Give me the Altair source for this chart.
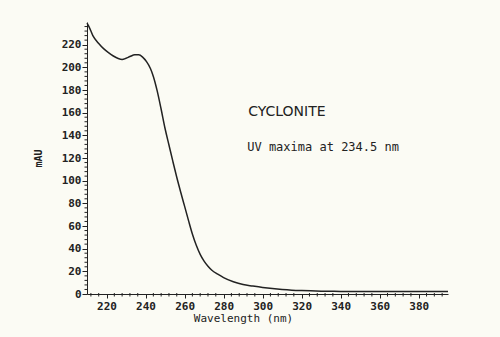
import altair as alt
import pandas as pd

wavelength = [210, 211, 213, 216, 218.5, 221, 223.5, 226, 228, 230, 232, 234.5, 236.5,
              238.5, 240.5, 242.5, 244, 246, 248, 250, 252, 254, 256, 258, 260, 262,
              264, 266, 268, 270, 272, 274, 277, 280, 285, 290, 295, 300,
              305, 310, 315, 320, 330, 340, 360, 380, 395]
absorb = [239, 236, 228, 221, 216.5, 213, 210, 207.8, 207, 208, 209.5, 211, 211,
          209, 205, 199, 192, 179, 163, 146, 131.5, 117, 103, 90, 77.5, 65,
          53, 43, 35, 29, 24.5, 21, 17.5, 14.5, 10.8, 8.3, 7, 5.8,
          4.8, 4, 3.4, 3, 2.5, 2.3, 2.2, 2.2, 2.3]

x_major = [220, 240, 260, 280, 300, 320, 340, 360, 380]
y_major = [0, 20, 40, 60, 80, 100, 120, 140, 160, 180, 200, 220]
x_minor = [v for v in range(212, 396, 4) if v % 20 != 0]
y_minor = [v for v in range(4, 241, 4) if v % 20 != 0]

title_x, title_y, title_text = [292.6], [160.3], ["CYCLONITE"]
sub_x, sub_y, sub_text = [292.1], [129.5], ["UV maxima at 234.5 nm"]

df = pd.DataFrame({"nm": wavelength, "mAU": absorb})
tdf = pd.DataFrame({"x": title_x, "y": title_y, "t": title_text})
sdf = pd.DataFrame({"x": sub_x, "y": sub_y, "t": sub_text})
xmdf = pd.DataFrame({"v": x_minor})
ymdf = pd.DataFrame({"v": y_minor})

INK = "#222222"
LABEL_FONT = "DejaVu Sans Mono"
H = 272

xs = alt.Scale(domain=[210, 395], nice=False, zero=False)
ys = alt.Scale(domain=[0, 240], nice=False)

x_axis = alt.Axis(
    orient="bottom", values=x_major, grid=False, domainColor=INK, tickColor=INK,
    tickSize=4, labelPadding=2, labelFont=LABEL_FONT, labelFontSize=11,
    labelFontWeight="bold", labelColor=INK, labelOverlap=False, title="Wavelength (nm)",
    titleFont=LABEL_FONT, titleFontSize=11, titleFontWeight="normal", titleColor=INK,
    titleX=156, titleY=24, titleBaseline="middle", titleAlign="center")
y_axis = alt.Axis(
    orient="left", values=y_major, grid=False, domainColor=INK, tickColor=INK,
    tickSize=5, labelPadding=1, labelFont=LABEL_FONT, labelFontSize=11,
    labelFontWeight="bold", labelColor=INK, labelOverlap=False, title="mAU",
    titleFont=LABEL_FONT, titleFontSize=10, titleFontWeight="bold", titleColor=INK,
    titleX=-49, titleY=136, titleAngle=270, titleBaseline="middle", titleAlign="center")

line = alt.Chart(df).mark_line(color=INK, strokeWidth=1.5, interpolate="monotone").encode(
    x=alt.X("nm:Q", scale=xs, axis=x_axis),
    y=alt.Y("mAU:Q", scale=ys, axis=y_axis),
)

x_minor_ticks = alt.Chart(xmdf).mark_rule(color=INK, strokeWidth=1).encode(
    x=alt.X("v:Q", scale=xs, axis=x_axis),
    y=alt.value(H - 1),
    y2=alt.value(H + 2.5),
)

y_minor_ticks = alt.Chart(ymdf).mark_rule(color=INK, strokeWidth=1).encode(
    y=alt.Y("v:Q", scale=ys, axis=y_axis),
    x=alt.value(-2.5),
    x2=alt.value(1),
)

title_mark = alt.Chart(tdf).mark_text(align="left", baseline="middle", color=INK,
                                      font="DejaVu Sans", fontSize=14).encode(
    x=alt.X("x:Q", scale=xs, axis=x_axis),
    y=alt.Y("y:Q", scale=ys, axis=y_axis),
    text="t:N",
)

sub_mark = alt.Chart(sdf).mark_text(align="left", baseline="middle", color=INK,
                                    font=LABEL_FONT, fontSize=12).encode(
    x=alt.X("x:Q", scale=xs, axis=x_axis),
    y=alt.Y("y:Q", scale=ys, axis=y_axis),
    text="t:N",
)

chart = alt.layer(line, x_minor_ticks, y_minor_ticks, title_mark, sub_mark).properties(
    width=361, height=H,
    autosize=alt.AutoSizeParams(type="none"),
    padding={"left": 87, "top": 22, "right": 52, "bottom": 43},
    background="#fbfbf4",
).configure_view(stroke=None)

chart.save("out.html", embed_options={"renderer": "svg", "actions": False})
